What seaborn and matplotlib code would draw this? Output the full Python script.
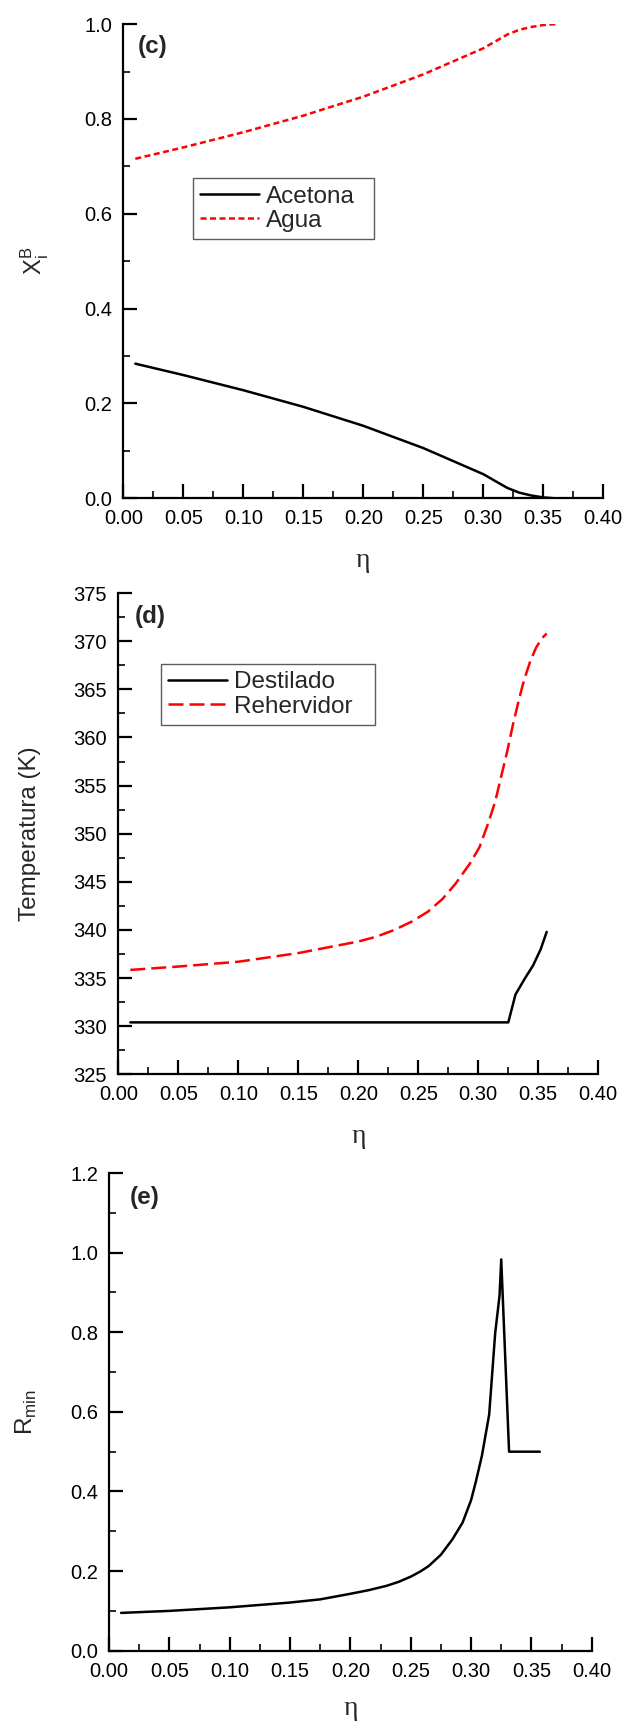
import numpy as np
import pandas as pd
import matplotlib
matplotlib.use('Agg')
import matplotlib.pyplot as plt
import seaborn as sns
from matplotlib.ticker import MultipleLocator, FormatStrFormatter

# panel (c): liquid composition in the reboiler
eta_c = [0.01, 0.05, 0.10, 0.15, 0.20, 0.25, 0.30, 0.32, 0.33, 0.34, 0.35, 0.36]
acetona = [0.284, 0.260, 0.228, 0.193, 0.153, 0.106, 0.051, 0.022, 0.012, 0.006, 0.002, 0.0]
agua = [0.716, 0.740, 0.772, 0.807, 0.847, 0.894, 0.949, 0.978, 0.988, 0.994, 0.998, 1.0]

# panel (d): temperatures
eta_dest = [0.01, 0.10, 0.20, 0.30, 0.325, 0.331, 0.339, 0.3456, 0.352, 0.357]
t_dest = [330.4, 330.4, 330.4, 330.4, 330.4, 333.3, 335.0, 336.3, 338.0, 339.8]
eta_reb = [0.01, 0.05, 0.10, 0.15, 0.20, 0.215, 0.23, 0.245, 0.258, 0.27, 0.281, 0.293,
           0.301, 0.308, 0.314, 0.319, 0.324, 0.329, 0.334, 0.338, 0.343, 0.348, 0.353, 0.357]
t_reb = [335.85, 336.2, 336.7, 337.6, 338.8, 339.3, 340.0, 340.9, 341.9, 343.2, 344.8, 346.9,
         348.6, 351.0, 353.3, 355.9, 358.5, 361.4, 364.0, 365.9, 367.8, 369.3, 370.3, 370.8]

# panel (e): minimum reflux
eta_e = [0.01, 0.05, 0.10, 0.15, 0.175, 0.20, 0.215, 0.23, 0.24, 0.25, 0.258, 0.265, 0.275,
         0.2846, 0.293, 0.30, 0.304, 0.309, 0.315, 0.320, 0.3236, 0.325, 0.3315, 0.357]
rmin = [0.095, 0.100, 0.109, 0.121, 0.129, 0.143, 0.152, 0.163, 0.173, 0.186, 0.199, 0.213,
        0.241, 0.280, 0.322, 0.378, 0.425, 0.490, 0.593, 0.798, 0.892, 0.983, 0.50, 0.50]

sns.set_theme(style='white')
plt.rcParams['font.family'] = ['Liberation Sans', 'DejaVu Sans']
plt.rcParams['axes.linewidth'] = 1.6
plt.rcParams['mathtext.fontset'] = 'custom'
plt.rcParams['mathtext.rm'] = 'Liberation Sans'

fig = plt.figure(figsize=(6.24, 17.22), dpi=100)
ax_c = fig.add_axes([0.1976, 0.7106, 0.7692, 0.2754])
ax_d = fig.add_axes([0.1896, 0.3761, 0.7692, 0.2795])
ax_e = fig.add_axes([0.1747, 0.0414, 0.7736, 0.2774])

LW = 1.8


def style_axes(ax, ymin, ymax, ymajor, yfmt, eta_y):
    ax.set_facecolor('none')
    ax.set_xlim(0, 0.40)
    ax.set_ylim(ymin, ymax)
    ax.xaxis.set_major_locator(MultipleLocator(0.05))
    ax.xaxis.set_minor_locator(MultipleLocator(0.025))
    ax.yaxis.set_major_locator(MultipleLocator(ymajor))
    ax.yaxis.set_minor_locator(MultipleLocator(ymajor / 2))
    ax.xaxis.set_major_formatter(FormatStrFormatter('%.2f'))
    ax.yaxis.set_major_formatter(FormatStrFormatter(yfmt))
    ax.tick_params(which='major', direction='in', length=10, width=1.6,
                   labelsize=14.5, colors='black', pad=8)
    ax.tick_params(which='minor', direction='in', length=5, width=1.4)
    ax.tick_params(bottom=True, left=True, which='both')
    for s in ['top', 'right']:
        ax.spines[s].set_visible(False)
    for s in ['bottom', 'left']:
        ax.spines[s].set_color('black')
    ax.set_xlabel('η', family='Liberation Serif', fontsize=20, va='center')
    ax.xaxis.set_label_coords(0.5, eta_y)
    ax.grid(False)


def box_legend(ax, anchor):
    # anchor = (x0, y0, width, height) in axes fraction, frame stretched to width
    leg = ax.legend(loc='upper left', bbox_to_anchor=anchor, mode='expand', fontsize=17.5,
                    frameon=True, fancybox=False, edgecolor='#333333', handlelength=2.4,
                    borderpad=0.3, labelspacing=0.1, handletextpad=0.3, borderaxespad=0)
    leg.get_frame().set_linewidth(1.0)
    for line in leg.get_lines():
        line.set_linewidth(LW)
    return leg


# (c)
df_c = pd.DataFrame({'eta': eta_c, 'Acetona': acetona, 'Agua': agua})
sns.lineplot(data=df_c, x='eta', y='Acetona', ax=ax_c, color='black', lw=LW, label='Acetona')
sns.lineplot(data=df_c, x='eta', y='Agua', ax=ax_c, color='red', lw=LW, label='Agua')
ax_c.lines[1].set_dashes((2.4, 1.4))
style_axes(ax_c, 0, 1.0, 0.2, '%.1f', -0.132)
ax_c.set_ylabel(r'X$_\mathregular{i}^\mathregular{B}$', fontsize=17, va='center')
ax_c.yaxis.set_label_coords(-0.184, 0.5)
ax_c.text(0.031, 0.952, '(c)', transform=ax_c.transAxes, fontsize=17.5,
          fontweight='bold', va='center')
leg = box_legend(ax_c, (0.145, 0.545, 0.377, 0.13))
leg.get_lines()[1].set_dashes((2.4, 1.4))

# (d)
df_dest = pd.DataFrame({'eta': eta_dest, 'T': t_dest})
df_reb = pd.DataFrame({'eta': eta_reb, 'T': t_reb})
sns.lineplot(data=df_dest, x='eta', y='T', ax=ax_d, color='black', lw=LW, label='Destilado')
sns.lineplot(data=df_reb, x='eta', y='T', ax=ax_d, color='red', lw=LW, label='Rehervidor')
ax_d.lines[1].set_dashes((6, 2.4))
style_axes(ax_d, 325, 375, 5, '%d', -0.130)
ax_d.set_ylabel('Temperatura (K)', fontsize=17.5, va='center')
ax_d.yaxis.set_label_coords(-0.184, 0.5)
ax_d.text(0.035, 0.952, '(d)', transform=ax_d.transAxes, fontsize=17.5,
          fontweight='bold', va='center')
leg = box_legend(ax_d, (0.089, 0.722, 0.446, 0.131))
leg.get_lines()[1].set_dashes((6, 2.4))

# (e)
df_e = pd.DataFrame({'eta': eta_e, 'Rmin': rmin})
sns.lineplot(data=df_e, x='eta', y='Rmin', ax=ax_e, color='black', lw=LW)
style_axes(ax_e, 0, 1.2, 0.2, '%.1f', -0.122)
ax_e.set_ylabel(r'R$_\mathregular{min}$', fontsize=17.5, va='center')
ax_e.yaxis.set_label_coords(-0.172, 0.5)
ax_e.text(0.0435, 0.948, '(e)', transform=ax_e.transAxes, fontsize=17.5,
          fontweight='bold', va='center')

fig.savefig('out.png', dpi=100)
